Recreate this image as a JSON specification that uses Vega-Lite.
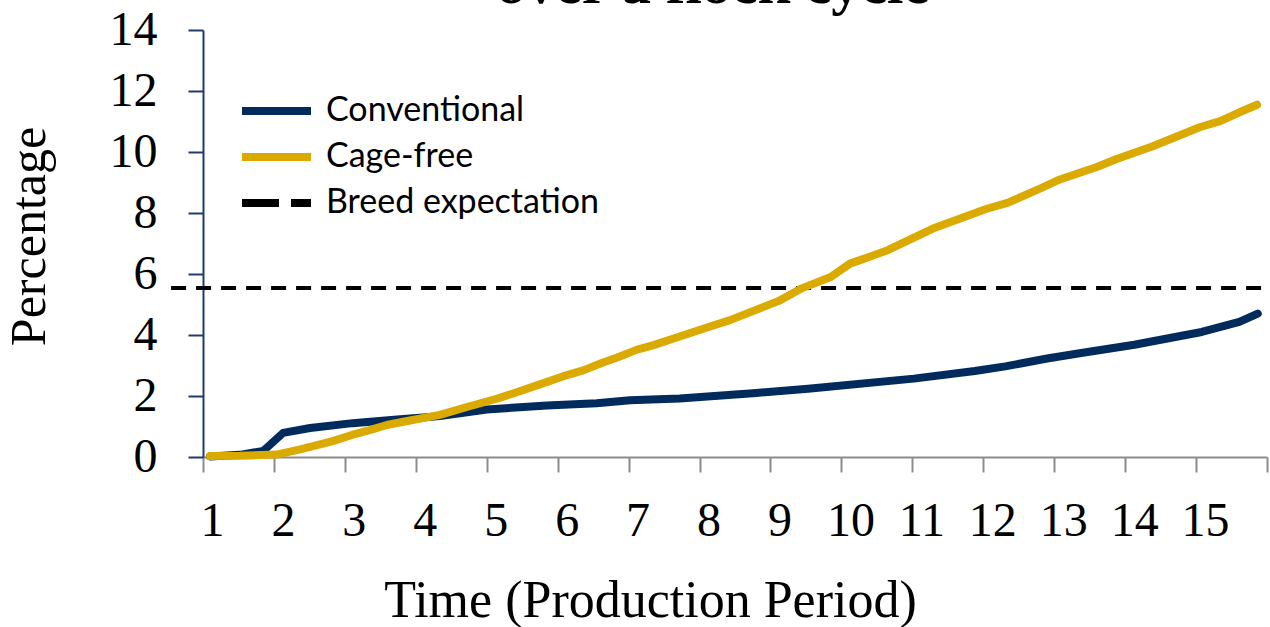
{
  "$schema": "https://vega.github.io/schema/vega-lite/v6.json",
  "width": 1064,
  "height": 427,
  "autosize": "none",
  "padding": {"left": 203, "top": 30, "right": 3, "bottom": 170},
  "background": "white",
  "title": {
    "text": "over a flock cycle",
    "font": "Liberation Serif",
    "fontSize": 59,
    "fontWeight": "bold",
    "color": "black",
    "anchor": "middle",
    "frame": "group",
    "baseline": "alphabetic",
    "offset": 0,
    "dy": 56,
    "dx": -22
  },
  "data": {
    "values": [
      {"s": "Breed expectation", "t": 0.55, "v": 5.54},
      {"s": "Breed expectation", "t": 15.95, "v": 5.54},
      {"s": "Conventional", "t": 1.10, "v": 0.02},
      {"s": "Conventional", "t": 1.52, "v": 0.07},
      {"s": "Conventional", "t": 1.85, "v": 0.20},
      {"s": "Conventional", "t": 2.13, "v": 0.79},
      {"s": "Conventional", "t": 2.51, "v": 0.95},
      {"s": "Conventional", "t": 3.11, "v": 1.11},
      {"s": "Conventional", "t": 3.78, "v": 1.24},
      {"s": "Conventional", "t": 4.34, "v": 1.34},
      {"s": "Conventional", "t": 5.00, "v": 1.56},
      {"s": "Conventional", "t": 5.85, "v": 1.69},
      {"s": "Conventional", "t": 6.55, "v": 1.76},
      {"s": "Conventional", "t": 7.02, "v": 1.86},
      {"s": "Conventional", "t": 7.72, "v": 1.92},
      {"s": "Conventional", "t": 8.80, "v": 2.10},
      {"s": "Conventional", "t": 9.53, "v": 2.24},
      {"s": "Conventional", "t": 11.02, "v": 2.57},
      {"s": "Conventional", "t": 11.88, "v": 2.82},
      {"s": "Conventional", "t": 12.31, "v": 2.97},
      {"s": "Conventional", "t": 12.90, "v": 3.23},
      {"s": "Conventional", "t": 13.38, "v": 3.41},
      {"s": "Conventional", "t": 14.13, "v": 3.68},
      {"s": "Conventional", "t": 14.65, "v": 3.91},
      {"s": "Conventional", "t": 15.08, "v": 4.10},
      {"s": "Conventional", "t": 15.61, "v": 4.43},
      {"s": "Conventional", "t": 15.87, "v": 4.70},
      {"s": "Cage-free", "t": 1.10, "v": 0.03},
      {"s": "Cage-free", "t": 1.52, "v": 0.04},
      {"s": "Cage-free", "t": 2.04, "v": 0.08},
      {"s": "Cage-free", "t": 2.37, "v": 0.25},
      {"s": "Cage-free", "t": 2.83, "v": 0.52},
      {"s": "Cage-free", "t": 3.11, "v": 0.73},
      {"s": "Cage-free", "t": 3.35, "v": 0.88},
      {"s": "Cage-free", "t": 3.59, "v": 1.05},
      {"s": "Cage-free", "t": 3.88, "v": 1.18},
      {"s": "Cage-free", "t": 4.34, "v": 1.38},
      {"s": "Cage-free", "t": 4.72, "v": 1.64},
      {"s": "Cage-free", "t": 5.14, "v": 1.91},
      {"s": "Cage-free", "t": 5.37, "v": 2.08},
      {"s": "Cage-free", "t": 5.75, "v": 2.38},
      {"s": "Cage-free", "t": 6.08, "v": 2.65},
      {"s": "Cage-free", "t": 6.36, "v": 2.84},
      {"s": "Cage-free", "t": 6.64, "v": 3.10},
      {"s": "Cage-free", "t": 6.84, "v": 3.26},
      {"s": "Cage-free", "t": 7.12, "v": 3.52},
      {"s": "Cage-free", "t": 7.34, "v": 3.66},
      {"s": "Cage-free", "t": 7.72, "v": 3.95},
      {"s": "Cage-free", "t": 8.15, "v": 4.28},
      {"s": "Cage-free", "t": 8.42, "v": 4.48},
      {"s": "Cage-free", "t": 9.11, "v": 5.11},
      {"s": "Cage-free", "t": 9.43, "v": 5.52},
      {"s": "Cage-free", "t": 9.85, "v": 5.90},
      {"s": "Cage-free", "t": 10.12, "v": 6.34},
      {"s": "Cage-free", "t": 10.39, "v": 6.56},
      {"s": "Cage-free", "t": 10.66, "v": 6.79},
      {"s": "Cage-free", "t": 11.29, "v": 7.49},
      {"s": "Cage-free", "t": 12.05, "v": 8.14},
      {"s": "Cage-free", "t": 12.34, "v": 8.33},
      {"s": "Cage-free", "t": 12.80, "v": 8.80},
      {"s": "Cage-free", "t": 13.08, "v": 9.10},
      {"s": "Cage-free", "t": 13.60, "v": 9.51},
      {"s": "Cage-free", "t": 13.89, "v": 9.78},
      {"s": "Cage-free", "t": 14.39, "v": 10.19},
      {"s": "Cage-free", "t": 15.06, "v": 10.82},
      {"s": "Cage-free", "t": 15.34, "v": 11.01},
      {"s": "Cage-free", "t": 15.62, "v": 11.31},
      {"s": "Cage-free", "t": 15.86, "v": 11.55}
    ]
  },
  "encoding": {
    "x": {
      "field": "t",
      "type": "quantitative",
      "scale": {"domain": [1, 16], "nice": false, "zero": false},
      "axis": {
        "values": [1, 2, 3, 4, 5, 6, 7, 8, 9, 10, 11, 12, 13, 14, 15, 16],
        "labelExpr": "datum.value == 16 ? '' : datum.label",
        "title": "Time (Production Period)",
        "titleFont": "Liberation Serif",
        "titleFontSize": 52,
        "titleFontWeight": "normal",
        "titleColor": "black",
        "titleX": 447,
        "titleY": 159,
        "titleBaseline": "alphabetic",
        "titleAnchor": "middle",
        "labelFont": "Liberation Serif",
        "labelFontSize": 48,
        "labelColor": "black",
        "labelBaseline": "alphabetic",
        "labelPadding": 63,
        "labelOffset": 9,
        "labelFlush": false,
        "labelOverlap": false,
        "tickSize": 15,
        "tickWidth": 2,
        "tickColor": "#8c8c8c",
        "domainColor": "#8c8c8c",
        "domainWidth": 2,
        "grid": false
      }
    },
    "y": {
      "field": "v",
      "type": "quantitative",
      "scale": {"domain": [0, 14], "nice": false},
      "axis": {
        "values": [0, 2, 4, 6, 8, 10, 12, 14],
        "title": "Percentage",
        "titleFont": "Liberation Serif",
        "titleFontSize": 50,
        "titleFontWeight": "normal",
        "titleColor": "black",
        "titleAngle": -90,
        "titleX": -159,
        "titleY": 206,
        "titleBaseline": "alphabetic",
        "titleAnchor": "middle",
        "labelFont": "Liberation Serif",
        "labelFontSize": 48,
        "labelColor": "black",
        "labelPadding": 31,
        "labelFlush": false,
        "labelOverlap": false,
        "tickSize": 15,
        "tickWidth": 2,
        "tickColor": "#1f3a6b",
        "domainColor": "#1f3a6b",
        "domainWidth": 2,
        "grid": false
      }
    },
    "color": {
      "field": "s",
      "type": "nominal",
      "scale": {
        "domain": ["Conventional", "Cage-free", "Breed expectation"],
        "range": ["#002B5C", "#DAAA00", "#000000"]
      },
      "legend": {
        "title": null,
        "orient": "none",
        "legendX": 35,
        "legendY": 64,
        "padding": 0,
        "symbolType": "stroke",
        "symbolSize": 4761,
        "symbolStrokeWidth": 8,
        "clipHeight": 34,
        "labelFont": "Lato",
        "labelFontSize": 34,
        "labelColor": "black",
        "labelOffset": 11,
        "rowPadding": 12,
        "labelLimit": 400,
        "encode": {
          "symbols": {
            "update": {
              "strokeDash": {"signal": "datum.value === 'Breed expectation' ? [37, 12] : [1, 0]"},
              "strokeWidth": {"value": 8}
            }
          }
        }
      }
    }
  },
  "layer": [
    {
      "transform": [{"filter": "datum.s === 'Breed expectation'"}],
      "mark": {"type": "line", "strokeWidth": 4, "strokeDash": [15, 10], "clip": false}
    },
    {
      "transform": [{"filter": "datum.s !== 'Breed expectation'"}],
      "mark": {"type": "line", "strokeWidth": 8, "strokeCap": "round", "strokeJoin": "round"}
    }
  ],
  "config": {
    "view": {"stroke": null}
  }
}
